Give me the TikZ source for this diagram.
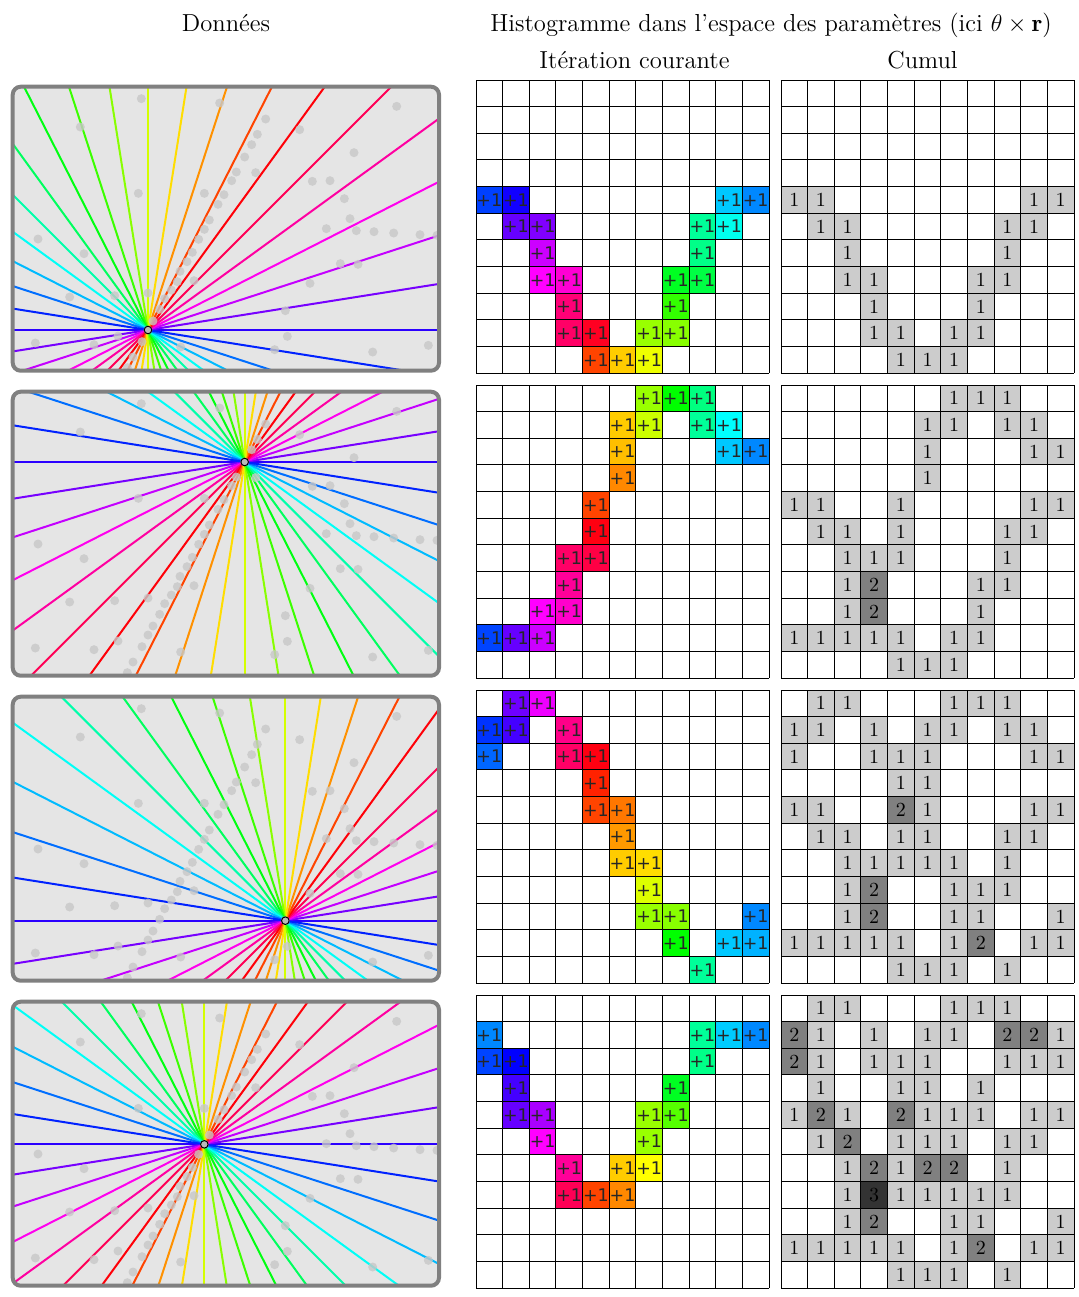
\documentclass[tikz,border=0pt]{standalone}
\usepackage{fontspec}
\newfontfamily\cellfont{DejaVu Sans}
\definecolor{cum1}{gray}{0.8}
\definecolor{cum2}{gray}{0.5}
\definecolor{cum3}{gray}{0.2}
\definecolor{panelbg}{gray}{0.9}
\newcommand\sethue[2]{\pgfmathsetmacro\hh{#2/360}\edef\tmpdef{\noexpand\definecolor{#1}{hsb}{\hh,1,1}}\tmpdef}
\begin{document}
\begin{tikzpicture}[x=0.5pt,y=-0.5pt,
  title/.style={font=\fontsize{12.3}{14}\selectfont, anchor=base, inner sep=0pt},
  gridline/.style={line width=0.5pt, black},
  plusone/.style={font=\cellfont\fontsize{8.7}{9}\selectfont, text=black!85, inner sep=0pt},
  cumtext/.style={font=\fontsize{10}{12}\selectfont, inner sep=0pt},
  panelframe/.style={draw=black!50, line width=2pt, rounded corners=4pt},
  ray/.style={line width=1pt},
  datadot/.style={fill=black!22, opacity=0.8},
  centerdot/.style={fill=black!27, draw=black, line width=0.5pt}]
\useasboundingbox (0,0) rectangle (1078,1297);
% titles
\node[title] (tdon) at (226,31.7) {Données};
\node[title] (thist) at (771,31.7) {Histogramme dans l’espace des paramètres (ici $\theta\times\mathbf{r}$)};
\node[title] (titer) at (634.5,68) {Itération courante};
\node[title] (tcum) at (922.5,68) {Cumul};
% data panels
\def\datapts{400/50,635/63,217/135,773/111,748/157,731/188,875/143,1166/73,710/225,685/270,743/272,671/296,1038/212,913/298,966/296,391/334,589/334,648/338,630/367,1009/350,604/414,589/442,1026/410,955/440,1045/446,1098/449,1157/453,1236/458,1287/460,90/471,572/472,228/515,553/511,537/539,997/545,1050/547,516/568,558/596,508/599,906/604,490/624,420/633,320/641,185/645,470/650,832/686,838/763,82/783,258/788,800/803,1094/810,1261/790,518/795,455/682,435/717,420/744,330/762,402/779,375/825,358/857}
\foreach \k/\cx/\cy in {0/420/744, 1/710/225, 2/832/686, 3/589/442} {
  \pgfmathsetmacro\off{305*\k}
  \pgfmathsetmacro\px{8+\cx/3}
  \pgfmathsetmacro\py{82+\cy/3+\off}
  \fill[panelbg, rounded corners=4pt] (12.7,{86.7+\off}) rectangle (439,{370.7+\off});
  \begin{scope}
    \clip[rounded corners=4pt] (12.7,{86.7+\off}) rectangle (439,{370.7+\off});
    \foreach \j in {0,...,19} {
      \pgfmathsetmacro\hu{mod(250+18*\j,360)}
      \sethue{raycol}{\hu}
      \draw[ray, raycol] ({\px-600*cos(9*\j)},{\py+600*sin(9*\j)}) -- ({\px+600*cos(9*\j)},{\py-600*sin(9*\j)});
    }
    \foreach \a/\b in \datapts {
      \fill[datadot] ({8+\a/3},{82+\b/3+\off}) circle (4.5);
    }
  \end{scope}
  \coordinate (c\k) at (\px,\py);
  \draw[centerdot] (c\k) circle (3.8);
  \draw[panelframe] (12.7,{86.7+\off}) rectangle (439,{370.7+\off});
}
% current iteration grids
\def\gA{5/1/225,5/2/244,5/10/193,5/11/208,6/2/264,6/3/270,6/9/156,6/10/176,7/3/288,7/9/152,8/3/300,8/4/310,8/8/128,8/9/136,9/4/332,9/8/108,10/4/336,10/5/352,10/7/84,10/8/88,11/5/16,11/6/48,11/7/64}
\def\gB{1/7/84,1/8/120,1/9/150,2/6/48,2/7/72,2/9/156,2/10/180,3/6/45,3/10/193,3/11/208,4/6/32,5/5/16,6/5/356,7/4/336,7/5/344,8/4/324,9/3/300,9/4/312,10/1/224,10/2/264,10/3/288}
\def\gC{1/2/266,1/3/296,2/1/228,2/2/256,2/4/328,3/1/216,3/4/336,3/5/356,4/5/8,5/5/16,5/6/28,6/6/36,7/6/48,7/7/52,8/7/68,9/7/84,9/8/88,9/11/208,10/8/120,10/10/193,10/11/198,11/9/156}
\def\gD{2/1/208,2/9/156,2/10/192,2/11/208,3/1/224,3/2/240,3/9/152,4/2/256,4/8/128,5/2/264,5/3/280,5/7/84,5/8/100,6/3/300,6/7/84,7/4/324,7/6/48,7/7/60,8/4/340,8/5/16,8/6/32}
\def\cw{26.636}
\foreach \k/\cells in {0/\gA,1/\gB,2/\gC,3/\gD} {
  \pgfmathsetmacro\gy{80+305*\k}
  \edef\celllist{\cells}
  \foreach \rr/\cc/\hu in \celllist {
    \sethue{cellcol}{\hu}
    \fill[cellcol] ({476+(\cc-1)*\cw},{\gy+(\rr-1)*\cw}) rectangle ++(\cw,\cw);
  }
  \foreach \i in {0,...,11} {
    \draw[gridline] ({476+\i*\cw},\gy) -- ({476+\i*\cw},{\gy+293});
    \draw[gridline] (476,{\gy+\i*\cw}) -- (769,{\gy+\i*\cw});
  }
  \foreach \rr/\cc/\hu in \celllist {
    \node[plusone] (m\k-\rr-\cc) at ({476+(\cc-0.5)*\cw},{\gy+(\rr-0.5)*\cw}) {+1};
  }
}
% cumulative grids
\def\cA{5/1/1,5/2/1,5/10/1,5/11/1,6/2/1,6/3/1,6/9/1,6/10/1,7/3/1,7/9/1,8/3/1,8/4/1,8/8/1,8/9/1,9/4/1,9/8/1,10/4/1,10/5/1,10/7/1,10/8/1,11/5/1,11/6/1,11/7/1}
\def\cB{1/7/1,1/8/1,1/9/1,2/6/1,2/7/1,2/9/1,2/10/1,3/6/1,3/10/1,3/11/1,4/6/1,5/1/1,5/2/1,5/5/1,5/10/1,5/11/1,6/2/1,6/3/1,6/5/1,6/9/1,6/10/1,7/3/1,7/4/1,7/5/1,7/9/1,8/3/1,8/4/2,8/8/1,8/9/1,9/3/1,9/4/2,9/8/1,10/1/1,10/2/1,10/3/1,10/4/1,10/5/1,10/7/1,10/8/1,11/5/1,11/6/1,11/7/1}
\def\cC{1/2/1,1/3/1,1/7/1,1/8/1,1/9/1,2/1/1,2/2/1,2/4/1,2/6/1,2/7/1,2/9/1,2/10/1,3/1/1,3/4/1,3/5/1,3/6/1,3/10/1,3/11/1,4/5/1,4/6/1,5/1/1,5/2/1,5/5/2,5/6/1,5/10/1,5/11/1,6/2/1,6/3/1,6/5/1,6/6/1,6/9/1,6/10/1,7/3/1,7/4/1,7/5/1,7/6/1,7/7/1,7/9/1,8/3/1,8/4/2,8/7/1,8/8/1,8/9/1,9/3/1,9/4/2,9/7/1,9/8/1,9/11/1,10/1/1,10/2/1,10/3/1,10/4/1,10/5/1,10/7/1,10/8/2,10/10/1,10/11/1,11/5/1,11/6/1,11/7/1,11/9/1}
\def\cD{1/2/1,1/3/1,1/7/1,1/8/1,1/9/1,2/1/2,2/2/1,2/4/1,2/6/1,2/7/1,2/9/2,2/10/2,2/11/1,3/1/2,3/2/1,3/4/1,3/5/1,3/6/1,3/9/1,3/10/1,3/11/1,4/2/1,4/5/1,4/6/1,4/8/1,5/1/1,5/2/2,5/3/1,5/5/2,5/6/1,5/7/1,5/8/1,5/10/1,5/11/1,6/2/1,6/3/2,6/5/1,6/6/1,6/7/1,6/9/1,6/10/1,7/3/1,7/4/2,7/5/1,7/6/2,7/7/2,7/9/1,8/3/1,8/4/3,8/5/1,8/6/1,8/7/1,8/8/1,8/9/1,9/3/1,9/4/2,9/7/1,9/8/1,9/11/1,10/1/1,10/2/1,10/3/1,10/4/1,10/5/1,10/7/1,10/8/2,10/10/1,10/11/1,11/5/1,11/6/1,11/7/1,11/9/1}
\foreach \k/\cells in {0/\cA,1/\cB,2/\cC,3/\cD} {
  \pgfmathsetmacro\gy{80+305*\k}
  \edef\celllist{\cells}
  \foreach \rr/\cc/\v in \celllist {
    \fill[cum\v] ({781+(\cc-1)*\cw},{\gy+(\rr-1)*\cw}) rectangle ++(\cw,\cw);
  }
  \foreach \i in {0,...,11} {
    \draw[gridline] ({781+\i*\cw},\gy) -- ({781+\i*\cw},{\gy+293});
    \draw[gridline] (781,{\gy+\i*\cw}) -- (1074,{\gy+\i*\cw});
  }
  \foreach \rr/\cc/\v in \celllist {
    \node[cumtext] (s\k-\rr-\cc) at ({781+(\cc-0.5)*\cw},{\gy+(\rr-0.5)*\cw}) {\v};
  }
}
\end{tikzpicture}
\end{document}
